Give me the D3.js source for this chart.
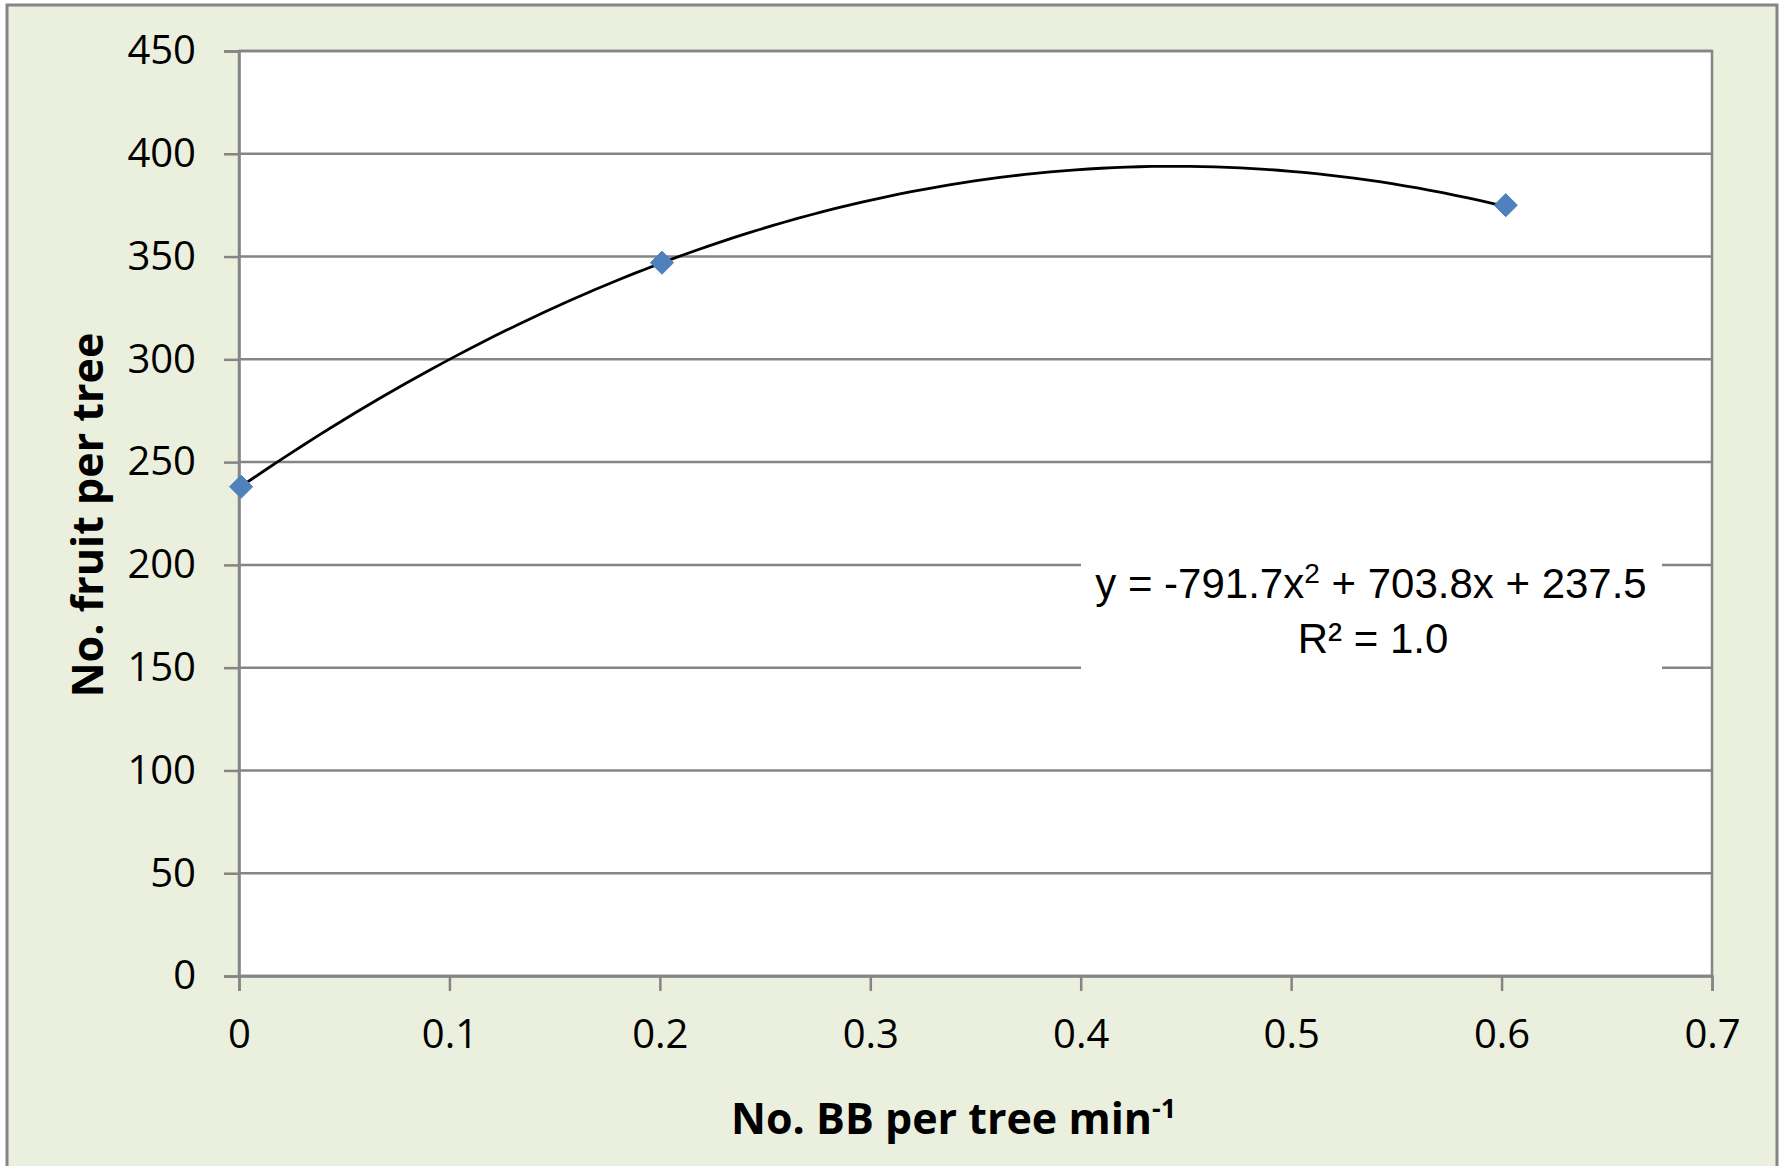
<!DOCTYPE html>
<html lang="en">

<head>
    <script src="https://cdn.jsdelivr.net/npm/d3@7/dist/d3.min.js"></script>
    <style>
        body { margin: 0; background: #fff; }
        svg { display: block; }
        .tick text { font-family: "Open Sans", sans-serif; font-size: 40px; fill: #000; }
    </style>
</head>

<body>
    <div id="chart"></div>

    <script>
        // data
        const bbRate = [0.001, 0.201, 0.602];       // No. BB per tree min-1
        const fruitCount = [238, 347, 375];          // No. fruit per tree
        const trendCoef = [-791.7, 703.8, 237.5];    // y = a x^2 + b x + c
        const xTicks = [0, 0.1, 0.2, 0.3, 0.4, 0.5, 0.6, 0.7];
        const yTicks = [0, 50, 100, 150, 200, 250, 300, 350, 400, 450];

        const width = 1783, height = 1166;
        const plot = { left: 239, top: 51, right: 1712, bottom: 976 };
        const gridColor = "#858585";

        const svg = d3.select("#chart").append("svg")
            .attr("width", width)
            .attr("height", height);

        // chart area
        svg.append("rect")
            .attr("x", 7).attr("y", 5)
            .attr("width", 1770).attr("height", 1175)
            .attr("fill", "#EBEFDE")
            .attr("stroke", gridColor)
            .attr("stroke-width", 3);

        const x = d3.scaleLinear().domain([0, 0.7]).range([plot.left, plot.right]);
        const y = d3.scaleLinear().domain([0, 450]).range([plot.bottom, plot.top]);

        svg.append("rect")
            .attr("x", plot.left).attr("y", plot.top)
            .attr("width", plot.right - plot.left)
            .attr("height", plot.bottom - plot.top)
            .attr("fill", "#fff")
            .attr("stroke", gridColor)
            .attr("stroke-width", 2.5);

        // horizontal gridlines
        svg.append("g")
            .selectAll("line")
            .data(yTicks)
            .join("line")
            .attr("x1", plot.left).attr("x2", plot.right)
            .attr("y1", d => y(d)).attr("y2", d => y(d))
            .attr("stroke", gridColor)
            .attr("stroke-width", 2.5);

        const yAxis = svg.append("g")
            .attr("transform", `translate(${plot.left},0)`)
            .call(d3.axisLeft(y).tickValues(yTicks).tickSize(15).tickPadding(28).tickFormat(d3.format("d")));

        const xAxis = svg.append("g")
            .attr("transform", `translate(0,${plot.bottom})`)
            .call(d3.axisBottom(x).tickValues(xTicks).tickSize(15).tickPadding(29).tickFormat(d => d === 0 ? "0" : d3.format(".1f")(d)));

        [yAxis, xAxis].forEach(a => {
            a.selectAll("path, line").attr("stroke", gridColor).attr("stroke-width", 2.5);
        });

        // equation label (white box hides gridlines)
        svg.append("rect")
            .attr("x", 1081).attr("y", 555)
            .attr("width", 581).attr("height", 120)
            .attr("fill", "#fff");

        const eq = svg.append("text")
            .attr("x", 1371).attr("y", 598)
            .attr("text-anchor", "middle")
            .style("font-family", "'Liberation Sans', Arial, sans-serif")
            .style("font-size", "42px");
        eq.append("tspan").text(`y = ${trendCoef[0]}x`);
        eq.append("tspan").attr("dy", -15).style("font-size", "28px").text("2");
        eq.append("tspan").attr("dy", 15).text(` + ${trendCoef[1]}x + ${trendCoef[2]}`);

        svg.append("text")
            .attr("x", 1373).attr("y", 653)
            .attr("text-anchor", "middle")
            .style("font-family", "'Liberation Sans', Arial, sans-serif")
            .style("font-size", "42px")
            .text("R² = 1.0");

        // trendline
        const poly = v => trendCoef[0] * v * v + trendCoef[1] * v + trendCoef[2];
        const xs = d3.range(0, 101).map(i => bbRate[0] + (bbRate[bbRate.length - 1] - bbRate[0]) * i / 100);
        svg.append("path")
            .datum(xs)
            .attr("fill", "none")
            .attr("stroke", "#000")
            .attr("stroke-width", 2.8)
            .attr("d", d3.line().x(d => x(d)).y(d => y(poly(d))));

        // markers
        const pts = bbRate.map((v, i) => ({ x: v, y: fruitCount[i] }));
        svg.append("g")
            .selectAll("path")
            .data(pts)
            .join("path")
            .attr("transform", d => `translate(${x(d.x)},${y(d.y)})`)
            .attr("d", d3.symbol().type(d3.symbolDiamond2).size(340))
            .attr("fill", "#4F81BD")
            .attr("stroke", "#4A7EBB")
            .attr("stroke-width", 1);

        // axis titles
        const xt = svg.append("text")
            .attr("x", 731).attr("y", 1134)
            .style("font-family", "'Open Sans', sans-serif")
            .style("font-weight", "bold")
            .style("font-size", "43px");
        xt.append("tspan").text("No. BB per tree min");
        xt.append("tspan").attr("dy", -16).style("font-size", "27px").text("-1");

        svg.append("text")
            .attr("transform", "translate(103,515) rotate(-90)")
            .attr("text-anchor", "middle")
            .style("font-family", "'Open Sans', sans-serif")
            .style("font-weight", "bold")
            .style("font-size", "43px")
            .text("No. fruit per tree");
    </script>
</body>

</html>
